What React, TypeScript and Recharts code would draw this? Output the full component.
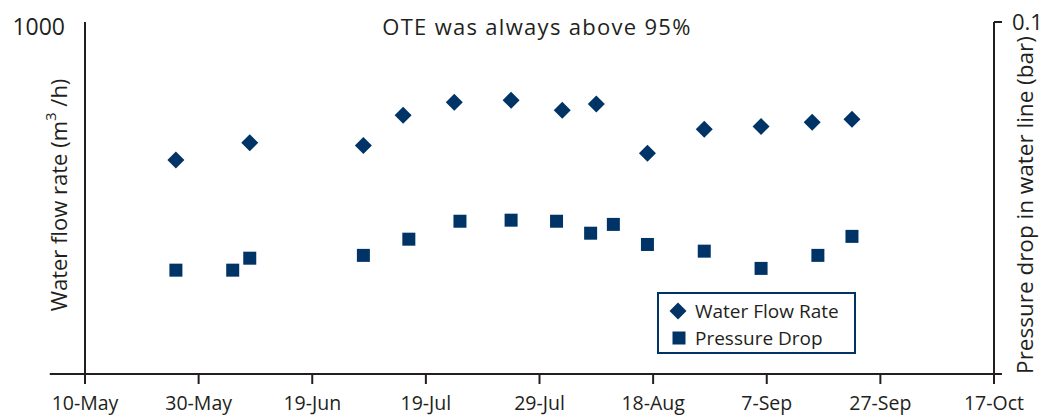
import React from 'react';
import {
  ScatterChart,
  Scatter,
  XAxis,
  YAxis,
  ReferenceLine,
  Legend,
} from 'recharts';

// days since 10-May
const tickDays = [0, 20, 40, 60, 80, 100, 120, 140, 160];
const tickLabels = ['10-May', '30-May', '19-Jun', '19-Jul', '29-Jul', '18-Aug', '7-Sep', '27-Sep', '17-Oct'];

const flowDays = [16, 29, 49, 56, 65, 75, 84, 90, 99, 109, 119, 128, 135];
const flowRate = [608, 657, 649, 735, 772, 778, 749, 767, 627, 695, 703, 715, 724];

const pressureDays = [16, 26, 29, 49, 57, 66, 75, 83, 89, 93, 99, 109, 119, 129, 135];
const pressureDrop = [0.0295, 0.0295, 0.0329, 0.0337, 0.0383, 0.0434, 0.0437, 0.0434, 0.04, 0.0425, 0.0368, 0.0349, 0.03, 0.0337, 0.0391];

const NAVY = '#003466';
const INK = '#231f20';
const FONT = '"Open Sans", sans-serif';

const flowData = flowDays.map((d, i) => ({ day: d, flow: flowRate[i] }));
const pressureData = pressureDays.map((d, i) => ({ day: d, pressure: pressureDrop[i] }));

const Diamond = ({ cx, cy }: any) => (
  <polygon
    points={`${cx},${cy - 8.5} ${cx + 8.5},${cy} ${cx},${cy + 8.5} ${cx - 8.5},${cy}`}
    fill={NAVY}
  />
);

const Square = ({ cx, cy }: any) => (
  <rect x={cx - 6.5} y={cy - 6.5} width={13} height={13} fill={NAVY} />
);

const XTick = ({ x, y, payload }: any) => {
  const idx = tickDays.indexOf(payload.value);
  return (
    <text x={x} y={y + 24} textAnchor="middle" fill={INK} fontSize={19.5} fontFamily={FONT}>
      {tickLabels[idx]}
    </text>
  );
};

const LeftTick = ({ x, y, payload }: any) => (
  <text x={65} y={y + 13} textAnchor="end" fill={INK} fontSize={23} fontFamily={FONT}>
    {payload.value}
  </text>
);

const RightTick = ({ x, y, payload }: any) => (
  <text x={1012} y={y + 8} textAnchor="start" fill={INK} fontSize={22} fontFamily={FONT}>
    {payload.value}
  </text>
);

const LegendBox = () => (
  <svg width={200} height={62} style={{ display: 'block' }}>
    <rect x={1} y={1} width={197} height={60} fill="#fff" stroke={NAVY} strokeWidth={2} />
    <Diamond cx={21} cy={19} />
    <text x={38} y={26} fontSize={19} fill={INK} fontFamily={FONT}>Water Flow Rate</text>
    <Square cx={22} cy={46} />
    <text x={38} y={53} fontSize={19} fill={INK} fontFamily={FONT}>Pressure Drop</text>
  </svg>
);

export default function App() {
  return (
    <div style={{ position: 'absolute', left: 0, top: 0, background: '#fff' }}>
      <ScatterChart
        width={1060}
        height={415}
        margin={{ top: 22, right: 6, bottom: 11, left: 25 }}
      >
        <XAxis
          type="number"
          dataKey="day"
          domain={[0, 160]}
          ticks={tickDays}
          interval={0}
          height={30}
          axisLine={false}
          tickSize={10}
          tickLine={{ stroke: INK, strokeWidth: 2 }}
          tick={<XTick />}
        />
        <YAxis
          yAxisId="left"
          type="number"
          dataKey="flow"
          domain={[0, 1000]}
          ticks={[1000]}
          interval={0}
          width={60}
          axisLine={{ stroke: INK, strokeWidth: 2 }}
          tickLine={false}
          tick={<LeftTick />}
        />
        <YAxis
          yAxisId="right"
          orientation="right"
          type="number"
          dataKey="pressure"
          domain={[0, 0.1]}
          ticks={[0.1]}
          interval={0}
          width={60}
          axisLine={{ stroke: INK, strokeWidth: 2 }}
          tickSize={8}
          tickLine={{ stroke: INK, strokeWidth: 2 }}
          tick={<RightTick />}
        />
        <ReferenceLine
          yAxisId="left"
          segment={[{ x: -6.2, y: 0 }, { x: 161.4, y: 0 }]}
          ifOverflow="visible"
          stroke={INK}
          strokeWidth={2}
        />
        <Scatter
          name="Water Flow Rate"
          yAxisId="left"
          data={flowData}
          dataKey="flow"
          shape={<Diamond />}
          isAnimationActive={false}
        />
        <Scatter
          name="Pressure Drop"
          yAxisId="right"
          data={pressureData}
          dataKey="pressure"
          shape={<Square />}
          isAnimationActive={false}
        />
        <Legend
          layout="vertical"
          align="center"
          verticalAlign="middle"
          content={<LegendBox />}
          wrapperStyle={{ left: 657, top: 292, width: 200, height: 62 }}
        />
        <text x={537} y={35} textAnchor="middle" fontSize={22} letterSpacing={1.3} fill={INK} fontFamily={FONT}>
          OTE was always above 95%
        </text>
        <text
          transform="rotate(-90, 58, 195)"
          x={58}
          y={195}
          textAnchor="middle"
          dominantBaseline="central"
          fontSize={22}
          fill={INK}
          fontFamily={FONT}
        >
          Water flow rate (m<tspan fontSize={15} dy={-8}>3</tspan><tspan dy={8}> /h)</tspan>
        </text>
        <text
          transform="rotate(-90, 1024, 205)"
          x={1024}
          y={205}
          textAnchor="middle"
          dominantBaseline="central"
          fontSize={22.5}
          fill={INK}
          fontFamily={FONT}
        >
          Pressure drop in water line (bar)
        </text>
      </ScatterChart>
    </div>
  );
}
